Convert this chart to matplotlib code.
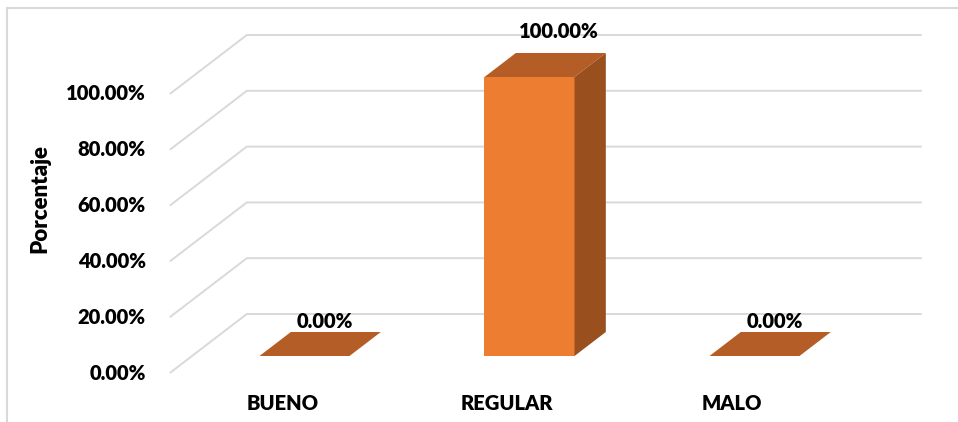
import matplotlib
matplotlib.use("Agg")
import matplotlib.pyplot as plt
from matplotlib.patches import Polygon

categories = ["BUENO", "REGULAR", "MALO"]
values = [0.0, 100.0, 0.0]
value_labels = ["0.00%", "100.00%", "0.00%"]
yticks = [0, 20, 40, 60, 80, 100]
ytick_labels = ["0.00%", "20.00%", "40.00%", "60.00%", "80.00%", "100.00%"]
ylabel = "Porcentaje"

plt.rcParams['font.family'] = ['Lato', 'DejaVu Sans']
W, H = 958, 422
fig = plt.figure(figsize=(W / 100, H / 100), dpi=100)
ax = fig.add_axes([0, 0, 1, 1])
ax.axis('off')

# pixel layout of the front plane of the bars
X0PX, XSCALE = 304.5, 225.0   # px of category 0, px per category
Y0PX, YSCALE = 356.0, 2.79    # px (from top) of value 0, px per percent
ax.set_xlim((0 - X0PX) / XSCALE, (W - X0PX) / XSCALE)
ax.set_ylim((Y0PX - H) / YSCALE, (Y0PX - 0) / YSCALE)

SLOPE = 1.305  # horizontal px per vertical px of depth


def dep(d):
    """data offset for a depth of d pixels (upwards/rightwards)."""
    return SLOPE * d / XSCALE, d / YSCALE


FLOOR_FRONT, WALL, BAR_DEPTH = -17, 42, 24
BAR_W = 0.4
grid_c = '#D9D9D9'
xl, xr = -0.5, len(categories) - 0.5
FS = 14.5
FW = 'heavy'

# gridlines (floor diagonal + back wall)
for v, lab in zip(yticks, ytick_labels):
    fx, fy = dep(FLOOR_FRONT)
    wx, wy = dep(WALL)
    ax.plot([xl + fx, xl + wx, xr + wx], [v + fy, v + wy, v + wy],
            color=grid_c, lw=1.4, solid_capstyle='butt', zorder=1)
    ax.annotate(lab, (xl + fx, v + fy), xytext=(-24, 0), textcoords='offset pixels',
                ha='right', va='center', fontsize=FS, fontweight=FW, color='#000000')

front_c, top_c, side_c = '#ED7D31', '#B45D26', '#9A4F1F'
bx, by = dep(BAR_DEPTH)
xs = list(range(len(categories)))
ax.bar(xs, values, width=BAR_W, color=front_c, zorder=3)
for x, v, vl in zip(xs, values, value_labels):
    l, r = x - BAR_W / 2, x + BAR_W / 2
    ax.add_patch(Polygon([(l, v), (r, v), (r + bx, v + by), (l + bx, v + by)],
                         closed=True, facecolor=top_c, edgecolor='none', zorder=3))
    if v > 0:
        ax.add_patch(Polygon([(r, 0), (r + bx, by), (r + bx, v + by), (r, v)],
                             closed=True, facecolor=side_c, edgecolor='none', zorder=3))
    # label offset grows slightly with bar height (as in the perspective view)
    off = (-11 + 0.09 * v, 11 + 0.1 * v)
    ax.annotate(vl, (x + bx, v + by), xytext=off, textcoords='offset pixels',
                ha='center', va='center', fontsize=FS, fontweight=FW, color='#000000', zorder=4)

fx, fy = dep(FLOOR_FRONT)
for x, c in zip(xs, categories):
    ax.annotate(c, (x + fx, fy), xytext=(0, -31), textcoords='offset pixels',
                ha='center', va='center', fontsize=FS, fontweight=FW, color='#000000')

fig.text(40 / W, 1 - 199 / H, ylabel, rotation=90, ha='center', va='center',
         fontsize=16, fontweight=FW, color='#000000')

# chart border (top and left visible)
fig.add_artist(plt.Line2D([7 / W, 7 / W], [0, 1 - 8 / H], color=grid_c, lw=1.5,
                          transform=fig.transFigure))
fig.add_artist(plt.Line2D([7 / W, 1], [1 - 8 / H, 1 - 8 / H], color=grid_c, lw=1.5,
                          transform=fig.transFigure))

fig.savefig('out.png', dpi=100)
